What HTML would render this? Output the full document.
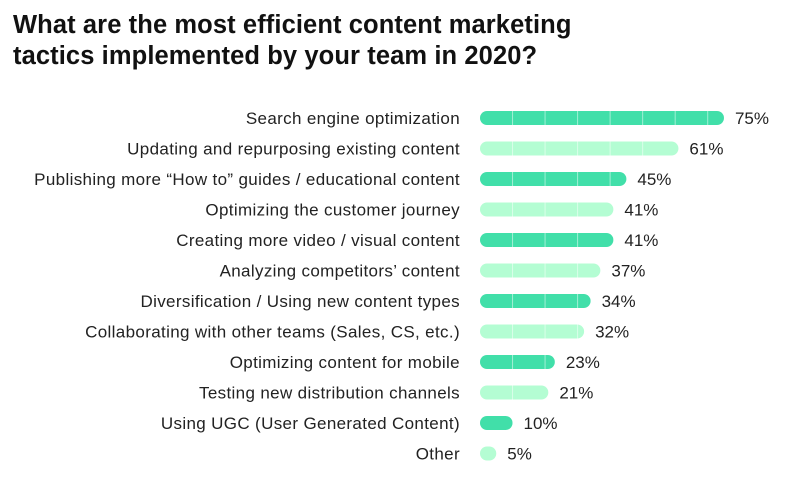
<!DOCTYPE html>
<html><head><meta charset="utf-8"><style>
body{margin:0;width:800px;height:483px;background:#fff;font-family:"Liberation Sans",sans-serif;overflow:hidden}
h1{position:absolute;left:13px;top:10px;margin:0;font-size:25.5px;line-height:31px;font-weight:bold;color:#111;letter-spacing:0.1px}
</style></head><body>
<h1>What are the most efficient content marketing<br>tactics implemented by your team in 2020?</h1>
<svg id="c" width="800" height="483" style="position:absolute;left:0;top:0"></svg>
<script>
const categories=["Search engine optimization","Updating and repurposing existing content","Publishing more \u201cHow to\u201d guides / educational content","Optimizing the customer journey","Creating more video / visual content","Analyzing competitors\u2019 content","Diversification / Using new content types","Collaborating with other teams (Sales, CS, etc.)","Optimizing content for mobile","Testing new distribution channels","Using UGC (User Generated Content)","Other"];
const values=[75,61,45,41,41,37,34,32,23,21,10,5];
const svg=document.getElementById('c');const NS='http://www.w3.org/2000/svg';
const x0=480,pxPer=3.253,y0=118,step=30.5,h=14;
const xs=v=>x0+v*pxPer;const ys=i=>y0+i*step;
function mk(t,a){const e=document.createElementNS(NS,t);for(const k in a)e.setAttribute(k,a[k]);svg.appendChild(e);return e;}
categories.forEach((c,i)=>{
const y=ys(i),col=i%2?'#b4fdd3':'#41dfa9';
const l=mk('text',{x:460,y:y+6,'text-anchor':'end','font-size':17,'letter-spacing':0.35,fill:'#222'});l.textContent=c;


const w=xs(values[i])-x0;
const b=mk('rect',{x:x0,y:y-h/2,width:w,height:h,rx:7,fill:col});


for(let s=10;s<values[i]-1;s+=10){mk('line',{x1:xs(s),x2:xs(s),y1:y-h/2,y2:y+h/2,stroke:'rgba(255,255,255,0.5)','stroke-width':1});}
const v=mk('text',{x:xs(values[i])+11,y:y+6,'font-size':17,fill:'#222'});v.textContent=values[i]+'%';


});
</script>
</body></html>
